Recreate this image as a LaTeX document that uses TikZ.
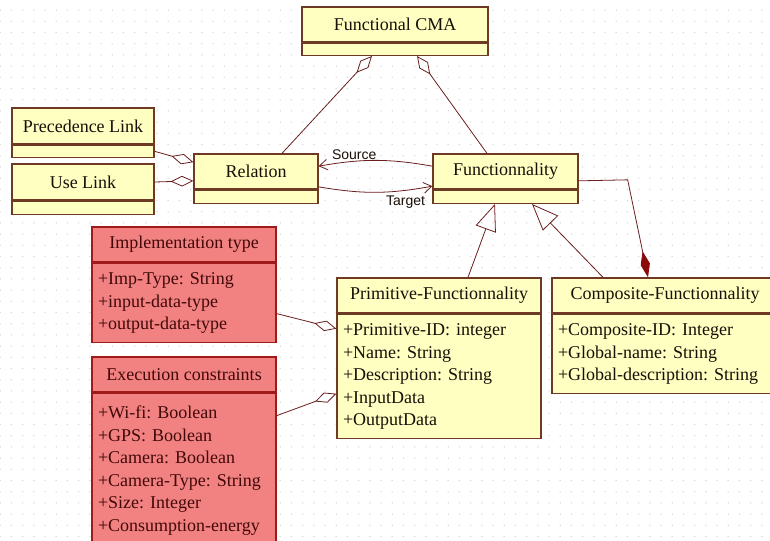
\documentclass[tikz,border=0pt]{standalone}
\usepackage{fontspec}
\setmainfont{Liberation Serif}
\newfontfamily\labelfont{Liberation Sans}
\usepackage{tikz}
\usetikzlibrary{arrows.meta}
\frenchspacing
\definecolor{umlyellow}{HTML}{FFFFC2}
\definecolor{umlbrown}{HTML}{6E3A26}
\definecolor{umltext}{HTML}{1A0E08}
\definecolor{notered}{HTML}{F28282}
\definecolor{noteline}{HTML}{A11A1A}
\definecolor{notetext}{HTML}{420808}
\definecolor{edgered}{HTML}{6A1E1E}
\definecolor{compred}{HTML}{8B0A0A}
\definecolor{dotgray}{HTML}{D6D6D6}
\tikzstyle{class_head} = [rectangle, draw=umlbrown, fill=umlyellow, text=umltext, line width=1pt, minimum height=26.25pt, inner sep=0pt, font=\fontsize{13.5}{16.875}\selectfont]
\tikzstyle{class_body} = [rectangle, draw=umlbrown, fill=umlyellow, text=umltext, line width=1pt, anchor=north, align=left, inner xsep=4.5pt, inner ysep=7pt, font=\fontsize{13.5}{16.875}\selectfont]
\tikzstyle{note_head} = [class_head, draw=noteline, fill=notered, text=notetext]
\tikzstyle{note_body} = [class_body, draw=noteline, fill=notered, text=notetext]
\tikzstyle{edge_agg} = [draw=edgered, line width=0.6pt, -{Diamond[open, length=17pt, width=8pt]}]
\tikzstyle{edge_comp} = [draw=edgered, line width=0.6pt, -{Diamond[length=20pt, width=7pt, color=compred, fill=compred]}]
\tikzstyle{edge_gen} = [draw=edgered, line width=0.6pt, -{Triangle[open, length=20pt, width=16pt]}]
\tikzstyle{edge_nav} = [draw=edgered, line width=0.6pt, -{Straight Barb[length=6pt, width=8pt]}]
\tikzstyle{role_label} = [font=\labelfont\fontsize{10.5}{12}\selectfont, text=umltext, inner sep=1pt]

\begin{document}
\begin{tikzpicture}[x=0.75pt, y=-0.75pt]
\clip (0,0) rectangle (770,540);
\fill[white] (0,0) rectangle (770,540);
\foreach \gx in {0,...,69}
  \foreach \gy in {0,...,48}
    \fill[dotgray] ({0.2+11.2*\gx}, {10.1+11.2*\gy}) circle (0.55pt);

\node (cma) at (395,24.5) [class_head, minimum width=139.5pt] {Functional CMA};
\node (cma_body) at (cma.south) [class_body, inner sep=0pt, minimum width=139.5pt, minimum height=9pt] {};
\node (prec) at (83,126) [class_head, minimum width=106.5pt, minimum height=27pt] {Precedence Link};
\node (prec_body) at (prec.south) [class_body, inner sep=0pt, minimum width=106.5pt, minimum height=9pt] {};
\node (use) at (83,182) [class_head, minimum width=106.5pt, minimum height=27pt] {Use Link};
\node (use_body) at (use.south) [class_body, inner sep=0pt, minimum width=106.5pt, minimum height=9.75pt] {};
\node (rel) at (256,171.5) [class_head, minimum width=93pt] {Relation};
\node (rel_body) at (rel.south) [class_body, inner sep=0pt, minimum width=93pt, minimum height=9.75pt] {};
\node (func) at (505.5,171.5) [class_head, minimum width=108.75pt] {Functionnality};
\node (func_body) at (func.south) [class_body, inner sep=0pt, minimum width=108.75pt, minimum height=9.75pt] {};

\node (impl) at (184,244.5) [note_head, minimum width=138pt] {Implementation type};
\node (impl_body) at (impl.south) [note_body, text width=129pt] {+Imp-Type: String\\+input-data-type\\+output-data-type};
\node (exec) at (184,374.5) [note_head, minimum width=138pt] {Execution constraints};
\node (exec_body) at (exec.south) [note_body, text width=129pt, minimum height=116pt] {+Wi-fi: Boolean\\+GPS: Boolean\\+Camera: Boolean\\+Camera-Type: String\\+Size: Integer\\+Consumption-energy};

\node (prim) at (439,295.5) [class_head, minimum width=153pt] {Primitive-Functionnality};
\node (prim_body) at (prim.south) [class_body, text width=144pt] {+Primitive-ID: integer\\+Name: String\\+Description: String\\+InputData\\+OutputData};
\node (comp) at (665,295.5) [class_head, minimum width=169.5pt] {Composite-Functionnality};
\node (comp_body) at (comp.south) [class_body, text width=160.5pt] {+Composite-ID: Integer\\+Global-name: String\\+Global-description: String};

\draw[edge_agg] ([xshift=19.5pt]rel.north) -- ([xshift=-17.25pt]cma_body.south);
\draw[edge_agg] ([xshift=-13.9pt]func.north) -- ([xshift=16.5pt]cma_body.south);
\draw[edge_agg] (prec_body.east) -- ([yshift=7pt]rel.west);
\draw[edge_agg] (use.east) -- ([yshift=-7pt]rel.west);
\draw[edge_nav] ([yshift=4pt]func.west) to[bend right=10] node[role_label, above, pos=0.7] {Source} ([yshift=4pt]rel.east);
\draw[edge_nav] ([yshift=-11.5pt]rel.east) to[bend right=10] node[role_label, below, pos=0.78, yshift=-3pt] {Target} ([yshift=-11pt]func.west);
\draw[edge_gen] ([xshift=21.75pt]prim.north) -- ([xshift=-7.9pt]func_body.south);
\draw[edge_gen] ([xshift=-46.5pt]comp.north) -- ([xshift=19.9pt]func_body.south);
\draw[edge_comp] ([yshift=-7pt]func.east) -- ++(49,-1) -- ([xshift=-12.75pt]comp.north);
\draw[edge_agg] ([yshift=-7.9pt]impl_body.east) -- ([yshift=-11.25pt]prim_body.north west);
\draw[edge_agg] ([yshift=-17.25pt]exec_body.north east) -- ([yshift=-60pt]prim_body.north west);
\end{tikzpicture}
\end{document}
